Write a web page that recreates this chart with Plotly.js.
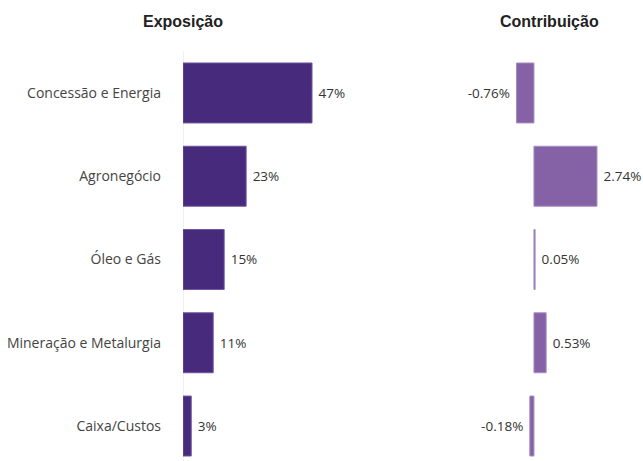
<!DOCTYPE html>
<html><head><meta charset="utf-8">
<script src="https://cdn.plot.ly/plotly-3.0.1.min.js"></script>
<style>html,body{margin:0;padding:0;background:#fff}#chart{width:643px;height:461px}</style>
</head><body><div id="chart"></div>
<script>
const categories = ["Concessão e Energia", "Agronegócio", "Óleo e Gás", "Mineração e Metalurgia", "Caixa/Custos"];
const exposicao = [47, 23, 15, 11, 3];
const contribuicao = [-0.76, 2.74, 0.05, 0.53, -0.18];
const exposicaoLabels = ["47%", "23%", "15%", "11%", "3%"];
const contribuicaoLabels = ["-0.76%", "2.74%", "0.05%", "0.53%", "-0.18%"];

const NB = "\u00a0";
const font = "'Segoe UI', 'Open Sans', 'Noto Sans', sans-serif";
const titleFont = "Arial, 'Liberation Sans', sans-serif";
const traces = [
  {
    type: "bar", orientation: "h", y: categories, x: exposicao,
    xaxis: "x", yaxis: "y",
    marker: {color: "#482A7C", line: {color: "#6E55A0", width: 1}},
    text: exposicaoLabels.map(t => NB + t), textposition: "outside", cliponaxis: false,
    textfont: {family: font, size: 13.5, color: "#333"}, hoverinfo: "none"
  },
  {
    type: "bar", orientation: "h", y: categories, x: contribuicao,
    xaxis: "x2", yaxis: "y2",
    marker: {color: "#8561A6", line: {color: "#A68DC2", width: 1}},
    text: contribuicaoLabels.map((t, i) => contribuicao[i] < 0 ? t + NB : NB + t),
    textposition: "outside", cliponaxis: false,
    textfont: {family: font, size: 13.5, color: "#333"}, hoverinfo: "none"
  }
];
const yr = [4.42, -0.504];
const layout = {
  width: 643, height: 461,
  margin: {l: 183, r: 0, t: 51, b: 0},
  paper_bgcolor: "#fff", plot_bgcolor: "rgba(0,0,0,0)",
  showlegend: false, bargap: 0.28,
  font: {family: font, size: 13.5, color: "#444"},
  xaxis: {domain: [0, 0.4717], range: [0, 79.05], visible: false, fixedrange: true},
  xaxis2: {domain: [0.6239, 1], range: [-2.78, 4.74], visible: false, fixedrange: true},
  yaxis: {type: "category", range: yr, autorange: false, showgrid: false, zeroline: false,
          ticks: "", ticklabelstandoff: 21, tickfont: {family: font, size: 14, color: "#444"}},
  yaxis2: {type: "category", range: yr, autorange: false, anchor: "x2", showticklabels: false,
           showgrid: false, zeroline: false},
  shapes: [{type: "line", xref: "x", yref: "paper", x0: 0, x1: 0, y0: 0, y1: 1,
            line: {color: "#E3E3E3", width: 1}, layer: "below"}],
  annotations: [
    {text: "<b>Exposição</b>", xref: "paper", yref: "paper", x: (182.5 - 183) / 460, y: 1,
     yshift: 30, xanchor: "center", yanchor: "middle", showarrow: false,
     font: {family: titleFont, size: 16, color: "#222"}},
    {text: "<b>Contribuição</b>", xref: "paper", yref: "paper", x: (549 - 183) / 460, y: 1,
     yshift: 30, xanchor: "center", yanchor: "middle", showarrow: false,
     font: {family: titleFont, size: 16, color: "#222"}}
  ]
};
Plotly.newPlot("chart", traces, layout, {displayModeBar: false, staticPlot: true});
</script></body></html>
